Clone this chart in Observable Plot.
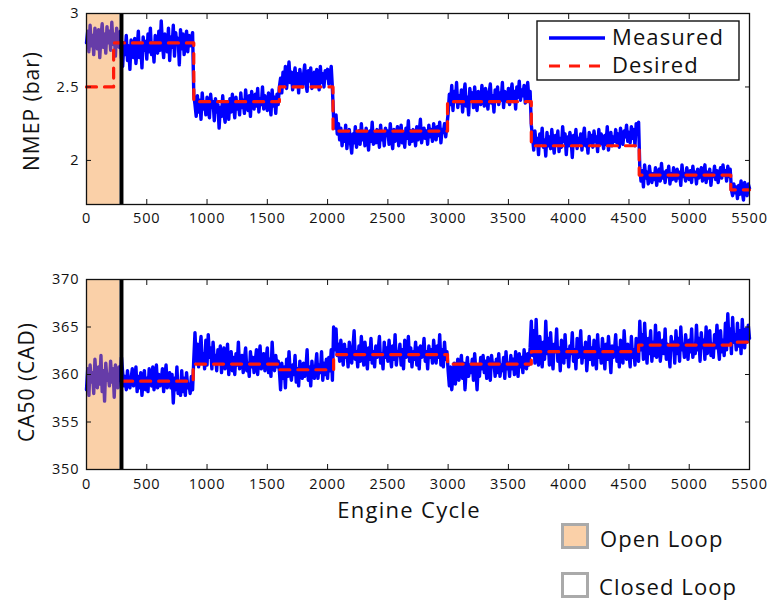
<!DOCTYPE html>
<html>
<head>
<meta charset="utf-8">
<script src="https://cdn.jsdelivr.net/npm/d3@7"></script>
<script src="https://cdn.jsdelivr.net/npm/@observablehq/plot@0.6"></script>
<style>
  body { margin: 0; background: #fff; font-family: "Open Sans", sans-serif; color: #111; }
  #wrap { position: relative; width: 768px; height: 602px; overflow: hidden; background: #fff; }
  #wrap > .panel { position: absolute; left: 0; }
  .ylab { position: absolute; white-space: nowrap; line-height: 1; font-size: 21px; letter-spacing: 1px;
          transform: translate(-50%, -50%) rotate(-90deg); }
  .xlab { position: absolute; white-space: nowrap; line-height: 1; font-size: 22px; letter-spacing: 1.3px;
          transform: translate(-50%, -50%); }
  .lg { position: absolute; }
  .lg text { font-family: "Open Sans", sans-serif; font-size: 22px; letter-spacing: 1.1px; fill: #111; }
</style>
</head>
<body>
<div id="wrap"></div>
<script>
// Sampling interval of the recorded traces (engine cycles per sample).
// Each row below holds 100 cycles; the last value is cycle 5500.
const cycleStep = 10;

// Measured NMEP (bar)
const nmepMeasured = [
  2.80, 2.88, 2.74, 2.92, 2.78, 2.85, 2.72, 2.90, 2.83, 2.76,
  2.89, 2.70, 2.84, 2.93, 2.77, 2.86, 2.73, 2.91, 2.80, 2.88,
  2.75, 2.94, 2.79, 2.86, 2.71, 2.90, 2.82, 2.77, 2.88, 2.70,
  2.64, 2.80, 2.72, 2.85, 2.68, 2.78, 2.62, 2.82, 2.74, 2.70,
  2.83, 2.66, 2.76, 2.88, 2.70, 2.79, 2.63, 2.84, 2.75, 2.81,
  2.69, 2.86, 2.74, 2.90, 2.72, 2.80, 2.67, 2.85, 2.78, 2.73,
  2.88, 2.75, 2.95, 2.79, 2.70, 2.86, 2.81, 2.74, 2.90, 2.68,
  2.84, 2.77, 2.92, 2.71, 2.87, 2.79, 2.83, 2.65, 2.89, 2.76,
  2.86, 2.72, 2.81, 2.88, 2.74, 2.85, 2.78, 2.83, 2.87, 2.45,
  2.38, 2.30, 2.44, 2.33, 2.41, 2.28, 2.46, 2.35, 2.40, 2.31,
  2.43, 2.34, 2.29, 2.45, 2.36, 2.40, 2.27, 2.42, 2.33, 2.38,
  2.22, 2.36, 2.30, 2.44, 2.32, 2.26, 2.40, 2.35, 2.28, 2.42,
  2.33, 2.45, 2.37, 2.29, 2.43, 2.35, 2.40, 2.31, 2.46, 2.36,
  2.41, 2.32, 2.48, 2.38, 2.34, 2.44, 2.30, 2.47, 2.39, 2.35,
  2.45, 2.37, 2.49, 2.33, 2.42, 2.38, 2.50, 2.35, 2.44, 2.40,
  2.34, 2.46, 2.39, 2.31, 2.48, 2.37, 2.43, 2.32, 2.45, 2.38,
  2.50, 2.56, 2.46, 2.60, 2.52, 2.64, 2.49, 2.58, 2.67, 2.53,
  2.60, 2.48, 2.57, 2.63, 2.51, 2.59, 2.46, 2.62, 2.55, 2.50,
  2.58, 2.65, 2.52, 2.47, 2.61, 2.54, 2.63, 2.49, 2.57, 2.60,
  2.51, 2.62, 2.55, 2.48, 2.64, 2.53, 2.59, 2.50, 2.61, 2.56,
  2.62, 2.52, 2.58, 2.64, 2.49, 2.28, 2.22, 2.31, 2.18, 2.25,
  2.14, 2.22, 2.10, 2.19, 2.13, 2.24, 2.08, 2.17, 2.21, 2.12,
  2.05, 2.18, 2.12, 2.23, 2.09, 2.16, 2.20, 2.11, 2.25, 2.14,
  2.19, 2.10, 2.22, 2.15, 2.07, 2.20, 2.13, 2.26, 2.11, 2.18,
  2.12, 2.21, 2.16, 2.09, 2.24, 2.14, 2.19, 2.10, 2.22, 2.17,
  2.20, 2.11, 2.25, 2.15, 2.08, 2.21, 2.13, 2.18, 2.23, 2.10,
  2.16, 2.24, 2.12, 2.19, 2.09, 2.22, 2.15, 2.27, 2.11, 2.20,
  2.13, 2.21, 2.17, 2.10, 2.23, 2.14, 2.19, 2.28, 2.12, 2.18,
  2.22, 2.15, 2.20, 2.11, 2.24, 2.16, 2.21, 2.13, 2.25, 2.18,
  2.14, 2.23, 2.17, 2.26, 2.12, 2.21, 2.19, 2.25, 2.16, 2.24,
  2.32, 2.45, 2.38, 2.51, 2.34, 2.47, 2.40, 2.53, 2.36, 2.44,
  2.39, 2.48, 2.33, 2.45, 2.52, 2.37, 2.43, 2.31, 2.49, 2.41,
  2.46, 2.36, 2.50, 2.40, 2.34, 2.47, 2.42, 2.38, 2.51, 2.44,
  2.37, 2.49, 2.43, 2.35, 2.46, 2.52, 2.39, 2.44, 2.33, 2.48,
  2.42, 2.50, 2.38, 2.46, 2.41, 2.53, 2.36, 2.47, 2.43, 2.40,
  2.49, 2.38, 2.45, 2.52, 2.40, 2.47, 2.35, 2.50, 2.43, 2.54,
  2.41, 2.48, 2.44, 2.51, 2.39, 2.46, 2.53, 2.42, 2.47, 2.24,
  2.16, 2.07, 2.20, 2.11, 2.15, 2.04, 2.18, 2.12, 2.22, 2.09,
  2.14, 2.03, 2.19, 2.10, 2.16, 2.08, 2.21, 2.12, 2.05, 2.17,
  2.11, 2.20, 2.06, 2.15, 2.09, 2.23, 2.13, 2.18, 2.04, 2.16,
  2.10, 2.19, 2.14, 2.02, 2.17, 2.11, 2.21, 2.08, 2.15, 2.12,
  2.18, 2.07, 2.16, 2.22, 2.10, 2.14, 2.05, 2.19, 2.12, 2.17,
  2.09, 2.20, 2.13, 2.16, 2.06, 2.21, 2.11, 2.18, 2.14, 2.08,
  2.17, 2.11, 2.23, 2.07, 2.15, 2.19, 2.10, 2.16, 2.13, 2.21,
  2.12, 2.18, 2.09, 2.22, 2.14, 2.11, 2.20, 2.16, 2.24, 2.13,
  2.19, 2.12, 2.23, 2.15, 2.21, 2.10, 2.25, 2.18, 2.26, 1.95,
  1.86, 1.93, 1.82, 1.97, 1.88, 1.92, 1.84, 1.96, 1.89, 1.85,
  1.91, 1.87, 1.95, 1.83, 1.90, 1.94, 1.86, 1.98, 1.88, 1.92,
  1.85, 1.93, 1.89, 1.96, 1.84, 1.91, 1.87, 1.95, 1.90, 1.86,
  1.94, 1.88, 1.92, 1.83, 1.97, 1.89, 1.91, 1.86, 1.95, 1.90,
  1.87, 1.93, 1.85, 1.96, 1.89, 1.92, 1.84, 1.94, 1.88, 1.91,
  1.95, 1.86, 1.90, 1.97, 1.85, 1.92, 1.88, 1.94, 1.83, 1.91,
  1.89, 1.96, 1.87, 1.93, 1.85, 1.91, 1.95, 1.88, 1.97, 1.90,
  1.93, 1.86, 1.96, 1.89, 1.94, 1.80, 1.76, 1.84, 1.78, 1.82,
  1.74, 1.83, 1.77, 1.86, 1.79, 1.73, 1.85, 1.80, 1.76, 1.84,
  1.81
];

// Measured CA50 (crank angle degrees), same sampling
const ca50Measured = [
  358.4, 360.6, 357.8, 361.0, 359.2, 360.2, 358.0, 361.6, 359.6, 358.6,
  360.8, 359.0, 362.0, 358.2, 360.4, 357.2, 361.2, 359.4, 360.0, 358.8,
  361.4, 359.2, 360.6, 357.6, 361.0, 359.8, 358.6, 360.8, 359.4, 361.8,
  360.2, 358.8, 359.8, 358.4, 360.4, 359.0, 358.6, 359.6, 360.6, 358.8,
  359.4, 360.8, 358.2, 359.8, 358.6, 360.2, 357.8, 359.4, 360.4, 358.4,
  359.6, 358.2, 360.6, 359.0, 358.8, 360.8, 358.4, 359.4, 361.0, 358.6,
  360.0, 358.8, 359.4, 360.6, 358.2, 359.8, 361.0, 358.6, 359.4, 360.2,
  358.6, 360.0, 357.0, 359.6, 358.4, 360.8, 358.0, 359.2, 357.8, 360.4,
  358.2, 359.6, 357.8, 360.2, 358.6, 359.0, 358.0, 359.8, 358.4, 361.6,
  364.4, 361.4, 363.2, 360.8, 362.6, 364.0, 361.2, 362.2, 360.6, 363.6,
  361.0, 364.2, 361.8, 362.8, 360.6, 363.4, 361.4, 362.0, 360.4, 362.6,
  361.2, 363.0, 360.2, 361.8, 362.8, 360.6, 361.4, 363.2, 360.0, 361.6,
  362.4, 360.4, 361.8, 360.0, 362.2, 361.0, 363.4, 360.6, 361.4, 362.0,
  360.2, 361.6, 362.8, 360.4, 361.2, 359.8, 362.4, 360.8, 361.8, 360.2,
  361.4, 362.6, 360.0, 361.8, 363.0, 360.6, 361.2, 362.2, 360.4, 361.6,
  362.8, 360.2, 361.6, 359.8, 363.4, 361.0, 360.4, 362.0, 360.8, 361.4,
  360.4, 358.4, 361.2, 359.6, 360.8, 358.6, 361.6, 359.8, 362.4, 360.2,
  359.4, 361.0, 360.0, 362.0, 359.2, 360.6, 358.8, 361.4, 360.2, 359.6,
  361.2, 359.8, 360.6, 362.6, 359.4, 360.8, 358.8, 361.4, 360.0, 359.6,
  360.8, 362.2, 359.6, 361.0, 360.2, 362.4, 359.4, 361.2, 360.0, 361.6,
  359.6, 361.8, 360.4, 362.6, 359.4, 365.0, 362.6, 364.8, 362.0, 363.2,
  361.4, 363.6, 362.2, 361.0, 363.2, 361.8, 362.6, 360.8, 363.4, 362.0,
  361.2, 362.8, 364.6, 361.6, 362.4, 360.8, 363.0, 361.4, 364.0, 362.2,
  361.0, 363.4, 362.0, 360.6, 362.8, 361.6, 363.8, 361.2, 362.4, 360.8,
  363.0, 361.8, 362.6, 364.0, 361.2, 362.2, 360.6, 363.4, 361.8, 362.8,
  361.4, 363.6, 362.0, 360.8, 363.0, 361.6, 364.2, 361.0, 362.4, 362.0,
  363.2, 361.0, 362.6, 360.6, 363.6, 361.8, 362.2, 364.0, 361.4, 362.8,
  360.8, 362.4, 361.6, 363.4, 361.0, 362.8, 360.6, 363.0, 361.8, 362.2,
  363.8, 361.4, 362.4, 360.6, 363.0, 361.8, 362.6, 361.2, 363.6, 362.0,
  361.2, 363.0, 361.8, 364.2, 361.0, 362.6, 360.8, 363.4, 361.6, 362.4,
  360.4, 358.8, 360.8, 358.4, 359.8, 361.2, 359.0, 360.4, 361.6, 359.4,
  360.8, 362.0, 359.6, 361.2, 358.4, 360.6, 361.8, 359.8, 361.0, 360.2,
  361.6, 359.4, 362.2, 360.4, 358.4, 361.0, 359.8, 361.8, 360.6, 362.0,
  360.2, 361.4, 359.6, 361.8, 360.4, 359.4, 362.0, 360.8, 361.2, 359.8,
  361.6, 360.2, 362.2, 359.8, 361.0, 360.4, 361.8, 359.6, 362.4, 360.6,
  361.2, 359.8, 362.0, 360.6, 361.6, 360.0, 362.4, 361.0, 359.8, 362.2,
  360.8, 361.8, 360.2, 362.6, 361.4, 360.6, 362.2, 361.0, 362.8, 365.6,
  362.0, 364.6, 361.2, 365.8, 362.4, 361.0, 364.0, 362.6, 360.8, 363.4,
  361.6, 365.6, 362.2, 363.8, 361.0, 364.4, 362.0, 360.6, 363.2, 362.4,
  364.8, 361.4, 362.8, 360.4, 363.6, 362.0, 361.2, 364.2, 361.8, 362.6,
  360.8, 363.0, 362.2, 364.4, 361.4, 362.6, 360.6, 363.8, 361.8, 362.4,
  364.6, 361.2, 362.8, 361.8, 363.4, 360.4, 362.2, 364.0, 361.6, 362.8,
  361.0, 363.6, 362.0, 360.6, 364.2, 361.8, 362.6, 361.2, 363.8, 362.4,
  360.6, 363.2, 361.6, 364.0, 362.2, 360.2, 363.0, 361.8, 362.6, 364.2,
  361.4, 362.8, 360.8, 363.6, 362.0, 361.2, 364.6, 362.4, 361.6, 363.2,
  362.2, 360.8, 364.0, 361.8, 362.6, 361.0, 363.8, 362.4, 361.4, 365.6,
  362.6, 364.2, 361.6, 365.4, 362.8, 361.2, 363.8, 362.2, 364.6, 361.4,
  363.4, 362.0, 365.2, 361.8, 363.0, 364.4, 361.4, 362.8, 363.6, 362.2,
  364.8, 361.6, 363.2, 362.4, 360.8, 364.0, 362.6, 363.4, 361.2, 364.6,
  362.2, 363.8, 361.4, 365.0, 362.6, 363.2, 361.8, 364.2, 362.8, 361.6,
  363.6, 362.4, 364.8, 361.8, 363.0, 362.2, 365.2, 362.6, 363.8, 361.4,
  364.4, 362.8, 363.6, 361.6, 365.0, 362.2, 363.4, 364.6, 362.0, 363.2,
  361.8, 364.2, 362.8, 365.2, 363.0, 361.6, 364.6, 362.4, 363.6, 362.0,
  365.4, 362.6, 366.4, 363.2, 364.8, 362.2, 366.0, 363.4, 364.2, 362.6,
  365.4, 363.0, 364.6, 362.2, 365.8, 363.6, 362.8, 364.8, 363.4, 365.2,
  363.8
];

// Desired set points: cycle at which each level starts, and the level
const nmepDesiredCycle = [0, 225, 890, 1600, 2045, 2995, 3690, 4585, 5345, 5500];
const nmepDesiredValue = [2.5, 2.8, 2.4, 2.5, 2.2, 2.4, 2.1, 1.9, 1.8, 1.8];
const ca50DesiredCycle = [300, 885, 1600, 2050, 2995, 3690, 4580, 5345, 5500];
const ca50DesiredValue = [359.3, 361.1, 360.5, 362.1, 361.1, 362.4, 363.1, 363.4, 363.4];

// Open-loop phase and the switch to closed-loop control
const openLoopStart = 0;
const openLoopEnd = 275;
const switchCycle = 290;

// Axis ticks
const cycleTicks = [0, 500, 1000, 1500, 2000, 2500, 3000, 3500, 4000, 4500, 5000, 5500];
const nmepTicks = [2, 2.5, 3];
const ca50Ticks = [350, 355, 360, 365, 370];

const blue = "#0000ff";
const red = "#ff1a0a";
const openFill = "rgb(243,143,48)";

function panel({measured, desCycle, desValue, yDomain, yTicks, height, marginTop, marginBottom, xPad}) {
  const meas = measured.map((v, i) => ({cycle: i * cycleStep, value: v}));
  const des = desCycle.map((c, i) => ({cycle: c, value: desValue[i]}));
  return Plot.plot({
    width: 768,
    height,
    marginLeft: 86,
    marginRight: 19,
    marginTop,
    marginBottom,
    style: {fontFamily: "Open Sans, sans-serif", fontSize: "14.5px", letterSpacing: "0.9px", color: "#111", background: "white", overflow: "visible"},
    x: {domain: [0, 5500]},
    y: {domain: yDomain},
    marks: [
      Plot.line(meas, {x: "cycle", y: "value", stroke: blue, strokeWidth: 3.4, strokeLinejoin: "round"}),
      Plot.rect([{x1: openLoopStart, x2: openLoopEnd}], {x1: "x1", x2: "x2", fill: openFill, fillOpacity: 0.42}),
      Plot.line(des, {x: "cycle", y: "value", curve: "step-after", stroke: red, strokeWidth: 3.2, strokeDasharray: "10,8"}),
      Plot.ruleX([switchCycle], {stroke: "black", strokeWidth: 4}),
      Plot.axisX({ticks: cycleTicks, tickSize: -5, tickPadding: xPad, tickFormat: d => String(d), label: null}),
      Plot.axisX({anchor: "top", ticks: cycleTicks, tickSize: -5, tickFormat: () => "", label: null}),
      Plot.axisY({ticks: yTicks, tickSize: -5, tickPadding: 12, tickFormat: d => String(d), label: null}),
      Plot.axisY({anchor: "right", ticks: yTicks, tickSize: -5, tickFormat: () => "", label: null}),
      Plot.frame({stroke: "#111", strokeWidth: 1.3})
    ]
  });
}

const wrap = document.getElementById("wrap");

const nmepChart = panel({
  measured: nmepMeasured, desCycle: nmepDesiredCycle, desValue: nmepDesiredValue,
  yDomain: [1.7, 3], yTicks: nmepTicks, height: 230, marginTop: 13, marginBottom: 26, xPad: 13
});
nmepChart.classList.add("panel");
nmepChart.style.top = "0px";
wrap.appendChild(nmepChart);

const ca50Chart = panel({
  measured: ca50Measured, desCycle: ca50DesiredCycle, desValue: ca50DesiredValue,
  yDomain: [350, 370], yTicks: ca50Ticks, height: 283, marginTop: 49, marginBottom: 44, xPad: 14
});
ca50Chart.classList.add("panel");
ca50Chart.style.top = "230px";
wrap.appendChild(ca50Chart);

// Axis titles
function addLabel(cls, text, x, y) {
  const d = document.createElement("div");
  d.className = cls;
  d.textContent = text;
  d.style.left = x + "px";
  d.style.top = y + "px";
  wrap.appendChild(d);
}
addLabel("ylab", "NMEP (bar)", 31, 111);
addLabel("ylab", "CA50 (CAD)", 26, 382);
addLabel("xlab", "Engine Cycle", 409, 509);

// Series legend inside the NMEP panel
const ns = "http://www.w3.org/2000/svg";
function svgEl(tag, attrs, parent) {
  const e = document.createElementNS(ns, tag);
  for (const k in attrs) e.setAttribute(k, attrs[k]);
  if (parent) parent.appendChild(e);
  return e;
}
const lg = svgEl("svg", {width: 204, height: 61, class: "lg"});
lg.style.left = "536px"; lg.style.top = "20px";
svgEl("rect", {x: 1, y: 1, width: 202, height: 59, fill: "white", stroke: "#111", "stroke-width": 1.4}, lg);
svgEl("line", {x1: 13, x2: 69, y1: 18, y2: 18, stroke: blue, "stroke-width": 3.6}, lg);
svgEl("line", {x1: 13, x2: 69, y1: 46, y2: 46, stroke: red, "stroke-width": 3.2, "stroke-dasharray": "11,9"}, lg);
svgEl("text", {x: 76, y: 25}, lg).textContent = "Measured";
svgEl("text", {x: 76, y: 53}, lg).textContent = "Desired";
wrap.appendChild(lg);

// Control-mode legend below the charts
const ml = svgEl("svg", {width: 210, height: 87, class: "lg"});
ml.style.left = "556px"; ml.style.top = "514px";
svgEl("rect", {x: 6.5, y: 10.5, width: 25, height: 23, fill: "rgb(250,208,168)", stroke: "#aaa", "stroke-width": 3}, ml);
svgEl("rect", {x: 6.5, y: 59.5, width: 25, height: 23, fill: "white", stroke: "#aaa", "stroke-width": 3}, ml);
svgEl("text", {x: 44, y: 33}, ml).textContent = "Open Loop";
svgEl("text", {x: 43, y: 81}, ml).textContent = "Closed Loop";
wrap.appendChild(ml);
</script>
</body>
</html>
